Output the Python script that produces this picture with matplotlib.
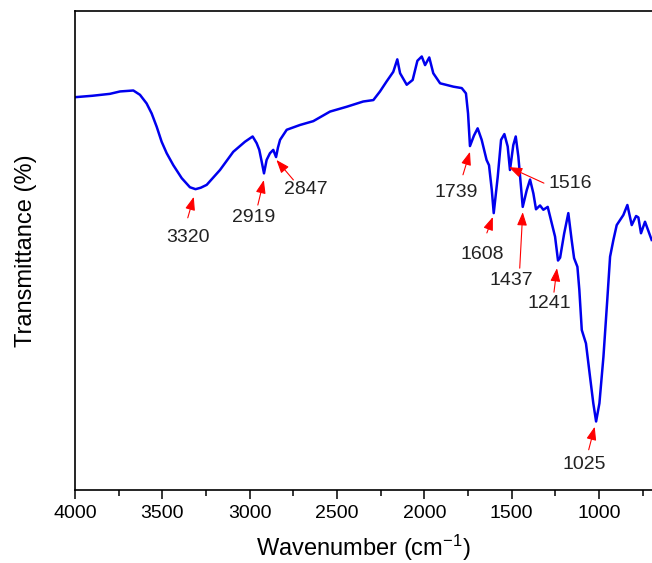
import numpy as np
import matplotlib
matplotlib.use('Agg')
import matplotlib.pyplot as plt

plt.rcParams['font.family'] = ['Liberation Sans', 'DejaVu Sans']
plt.rcParams['mathtext.fontset'] = 'custom'
plt.rcParams['mathtext.rm'] = 'Liberation Sans'
plt.rcParams['mathtext.it'] = 'Liberation Sans'

# FTIR spectrum (transmittance in arbitrary %)
wavenumber = [4000, 3900, 3800, 3742, 3666, 3628, 3590, 3561, 3532, 3504,
              3475, 3437, 3389, 3342, 3310, 3280, 3246, 3170, 3094, 3027,
              2983, 2960, 2945, 2931, 2918, 2903, 2884, 2865, 2849, 2838,
              2826, 2788, 2712, 2636, 2540, 2445, 2350, 2292, 2254, 2216,
              2178, 2155, 2139, 2101, 2067, 2040, 2015, 1996, 1972, 1949,
              1910, 1834, 1786, 1762, 1750, 1739, 1716, 1695, 1672, 1644,
              1630, 1614, 1603, 1580, 1561, 1542, 1523, 1510, 1491, 1477,
              1462, 1437, 1414, 1395, 1376, 1361, 1338, 1319, 1294, 1271,
              1252, 1235, 1223, 1200, 1176, 1157, 1143, 1124, 1113, 1099,
              1075, 1052, 1033, 1017, 998, 975, 953, 937, 918, 899,
              861, 838, 813, 788, 775, 760, 737, 699]
transmittance = [82.0, 82.3, 82.7, 83.2, 83.4, 82.5, 80.7, 78.6, 75.8, 72.7,
                 70.3, 67.8, 65.1, 63.2, 62.8, 63.1, 63.7, 66.8, 70.6, 72.7,
                 73.8, 72.4, 71.0, 68.5, 66.1, 68.9, 70.3, 71.0, 69.5, 71.5,
                 73.1, 75.2, 76.2, 77.0, 79.0, 80.0, 81.1, 81.4, 83.2, 85.3,
                 87.3, 89.9, 87.0, 84.6, 85.6, 89.6, 90.5, 88.7, 90.3, 87.0,
                 84.9, 84.2, 83.9, 82.8, 78.6, 71.8, 74.0, 75.5, 73.1, 68.9,
                 67.8, 62.6, 57.8, 65.4, 73.1, 74.3, 71.7, 66.8, 72.0, 73.8,
                 69.6, 59.1, 62.6, 64.8, 61.9, 58.6, 59.4, 58.5, 59.1, 55.7,
                 52.9, 47.9, 48.5, 53.5, 57.8, 52.2, 48.4, 46.6, 41.8, 33.4,
                 30.6, 23.7, 18.1, 14.3, 18.1, 27.8, 39.7, 48.7, 52.2, 55.3,
                 57.4, 59.5, 55.3, 57.2, 56.9, 53.6, 56.0, 52.2]

# peak labels: position, arrow head height
peak_wn = [3320, 2919, 2847, 1739, 1608, 1516, 1437, 1241, 1025]
peak_head = [61.2, 64.7, 68.9, 70.6, 57.0, 67.4, 58.0, 46.3, 13.2]
# offsets (pixels) of arrow tail and label from the arrow head
tail_off = [(-6, -21), (-6, -25), (17, -20), (-7, -23), (-6, -16),
            (35, -16), (-3, -56), (-3, -24), (-6, -23)]
text_off = [(-6, -41), (-10, -37), (29, -30), (-14, -41), (-11, -38),
            (61, -16), (-11, -68), (-8, -35), (-10, -38)]

fig = plt.figure(figsize=(6.52, 5.63), dpi=100)
ax = fig.add_axes([0.115, 0.1297, 0.885, 0.8508])

ax.plot(wavenumber, transmittance, color='#0000ee', lw=1.8)

for wn, h, t, s in zip(peak_wn, peak_head, tail_off, text_off):
    ax.annotate('', xy=(wn, h), xytext=t, textcoords='offset pixels',
                arrowprops=dict(arrowstyle='-|>,head_length=0.8,head_width=0.3',
                                color='red', lw=0.8, mutation_scale=10,
                                shrinkA=0, shrinkB=0))
    ax.annotate(str(wn), xy=(wn, h), xytext=s, textcoords='offset pixels',
                ha='center', va='center', fontsize=14, color='#222222')

ax.set_xlim(4000, 697)
ax.set_ylim(0, 100)
ax.set_xticks([4000, 3500, 3000, 2500, 2000, 1500, 1000])
ax.set_xticks(np.arange(3750, 697, -500), minor=True)
ax.set_yticks([])
ax.tick_params(axis='x', which='major', length=6.5, width=1.1, labelsize=14, pad=4)
ax.tick_params(axis='x', which='minor', length=4, width=1.1)
for side in ['left', 'top', 'bottom']:
    ax.spines[side].set_linewidth(1.2)
ax.spines['right'].set_visible(False)

ax.set_xlabel('Wavenumber (cm$^{-1}$)', fontsize=17, labelpad=8)
ax.set_ylabel('Transmittance (%)', fontsize=17, labelpad=27)

plt.savefig('out.png', dpi=100)
